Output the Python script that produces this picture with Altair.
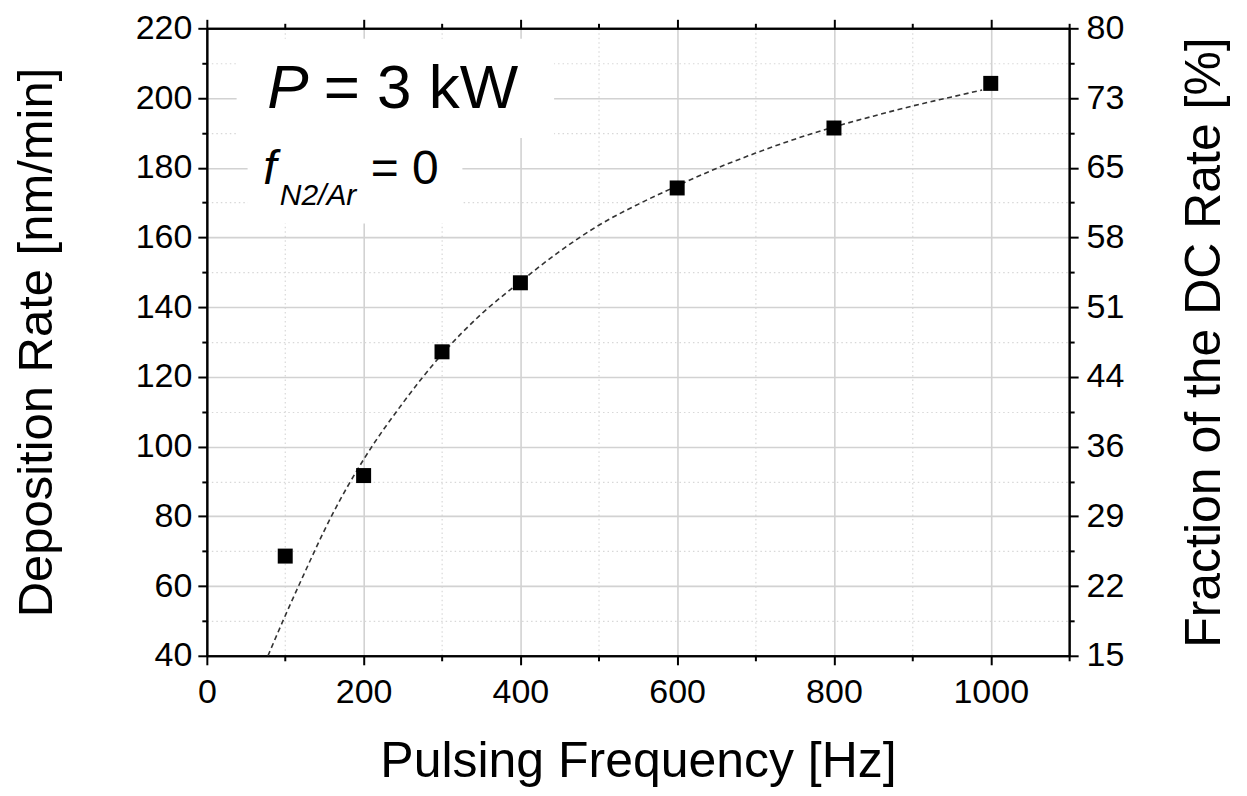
import altair as alt
import pandas as pd

# ---- data ----
freq = [100, 200, 300, 400, 600, 800, 1000]
rate = [68.6, 91.7, 127.2, 147.0, 174.2, 191.4, 204.2]

fit_freq = [78, 100, 120, 160, 200, 250, 300, 350, 400, 450, 500, 550, 600, 650, 700,
            750, 800, 850, 900, 950, 989]
fit_rate = [40, 51.5, 61.5, 80.5, 96.3, 112.5, 126.5, 138, 147.3, 156, 163.5, 169.5, 174.8,
            179.8, 184.2, 188.2, 191.7, 194.8, 197.7, 200.3, 202.3]

x_major = [0, 200, 400, 600, 800, 1000]
x_minor = [100, 300, 500, 700, 900, 1100]
y_major = [40, 60, 80, 100, 120, 140, 160, 180, 200, 220]
y_minor = [50, 70, 90, 110, 130, 150, 170, 190, 210]
right_labels = ["15", "22", "29", "36", "44", "51", "58", "65", "73", "80"]

pts = pd.DataFrame({"f": freq, "r": rate})
fit = pd.DataFrame({"f": fit_freq, "r": fit_rate})

FONT = "Liberation Sans"
xscale = alt.Scale(domain=[0, 1100], nice=False, zero=False)
yscale = alt.Scale(domain=[40, 220], nice=False, zero=False)

base_axis = dict(domainColor="black", domainWidth=2, tickColor="black", tickWidth=2,
                 labelFont=FONT, titleFont=FONT, labelColor="black", titleColor="black",
                 titleFontWeight="normal", labelFlush=False, labelOverlap=False)
GRID = "#d2d2d2"
LABEL_SIZE = 34


def axis_layer(xaxis, yaxis):
    return alt.Chart(pts).mark_point(opacity=0).encode(
        x=alt.X("f:Q", scale=xscale, axis=xaxis),
        y=alt.Y("r:Q", scale=yscale, axis=yaxis),
    )


ax_main = axis_layer(
    alt.Axis(orient="bottom", values=x_major, tickSize=9, labelFontSize=LABEL_SIZE, labelPadding=11,
             format="d", grid=True, gridColor=GRID, gridWidth=1.6,
             title="Pulsing Frequency [Hz]", titleFontSize=50, titlePadding=27, **base_axis),
    alt.Axis(orient="left", values=y_major, tickSize=9, labelFontSize=LABEL_SIZE, labelPadding=6,
             format="d", grid=True, gridColor=GRID, gridWidth=1.6,
             title="Deposition Rate [nm/min]", titleFontSize=49, titlePadding=74, **base_axis),
)
ax_minor = axis_layer(
    alt.Axis(orient="bottom", values=x_minor, tickSize=5, labels=False, grid=True,
             gridColor="#d8d8d8", gridWidth=1.2, gridDash=[1.5, 3], title=None, **base_axis),
    alt.Axis(orient="left", values=y_minor, tickSize=5, labels=False, grid=True,
             gridColor="#d8d8d8", gridWidth=1.2, gridDash=[1.5, 3], title=None, **base_axis),
)
ax_opp_major = axis_layer(
    alt.Axis(orient="top", values=x_major, tickSize=9, labels=False, grid=False, title=None, **base_axis),
    alt.Axis(orient="right", values=y_major, tickSize=9, labelFontSize=LABEL_SIZE, labelPadding=8,
             labelExpr=f"{right_labels}[round((datum.value - 40) / 20)]", grid=False,
             title="Fraction of the DC Rate [%]", titleFontSize=50, titleAngle=270,
             titleBaseline="top", titlePadding=56, **base_axis),
)
ax_opp_minor = axis_layer(
    alt.Axis(orient="top", values=x_minor, tickSize=5, labels=False, grid=False, title=None, **base_axis),
    alt.Axis(orient="right", values=y_minor, tickSize=5, labels=False, grid=False, title=None, **base_axis),
)

# white backgrounds behind the annotation text
boxes = pd.DataFrame({"x": [38, 52], "x2": [443, 326], "y": [188.5, 164], "y2": [217, 188.5]})
box_layer = alt.Chart(boxes).mark_rect(color="white", strokeWidth=0).encode(
    x=alt.X("x:Q", scale=xscale, axis=None), x2="x2:Q",
    y=alt.Y("y:Q", scale=yscale, axis=None), y2="y2:Q",
)

fit_layer = alt.Chart(fit).mark_line(color="#333333", strokeWidth=1.6, strokeDash=[5, 3.5],
                                     interpolate="monotone").encode(
    x=alt.X("f:Q", scale=xscale, axis=None),
    y=alt.Y("r:Q", scale=yscale, axis=None),
    order="f:Q",
)

pt_layer = alt.Chart(pts).mark_square(size=225, color="black", opacity=1, filled=True).encode(
    x=alt.X("f:Q", scale=xscale, axis=None),
    y=alt.Y("r:Q", scale=yscale, axis=None),
)


def label(txt, x, y, size, italic=False):
    return alt.Chart(pd.DataFrame({"x": [x], "y": [y]})).mark_text(
        text=txt, font=FONT, fontSize=size, fontStyle="italic" if italic else "normal",
        align="left", baseline="alphabetic", color="black",
    ).encode(
        x=alt.X("x:Q", scale=xscale, axis=None),
        y=alt.Y("y:Q", scale=yscale, axis=None),
    )


texts = [
    label("P", 77, 197.0, 62, italic=True),
    label("= 3 kW", 149, 197.0, 62),
    label("f", 72, 175.2, 48, italic=True),
    label("N2/Ar", 93, 169.2, 30, italic=True),
    label("= 0", 209, 175.2, 48),
]

chart = alt.layer(
    ax_main, ax_minor, ax_opp_major, ax_opp_minor, box_layer, fit_layer, pt_layer, *texts
).resolve_axis(x="independent", y="independent").properties(
    width=863, height=628,
    autosize=alt.AutoSizeParams(type="none"),
    padding={"left": 199, "top": 20, "right": 170, "bottom": 134},
).configure_view(stroke=None)

chart.save("out.html", embed_options={"renderer": "svg", "actions": False})
